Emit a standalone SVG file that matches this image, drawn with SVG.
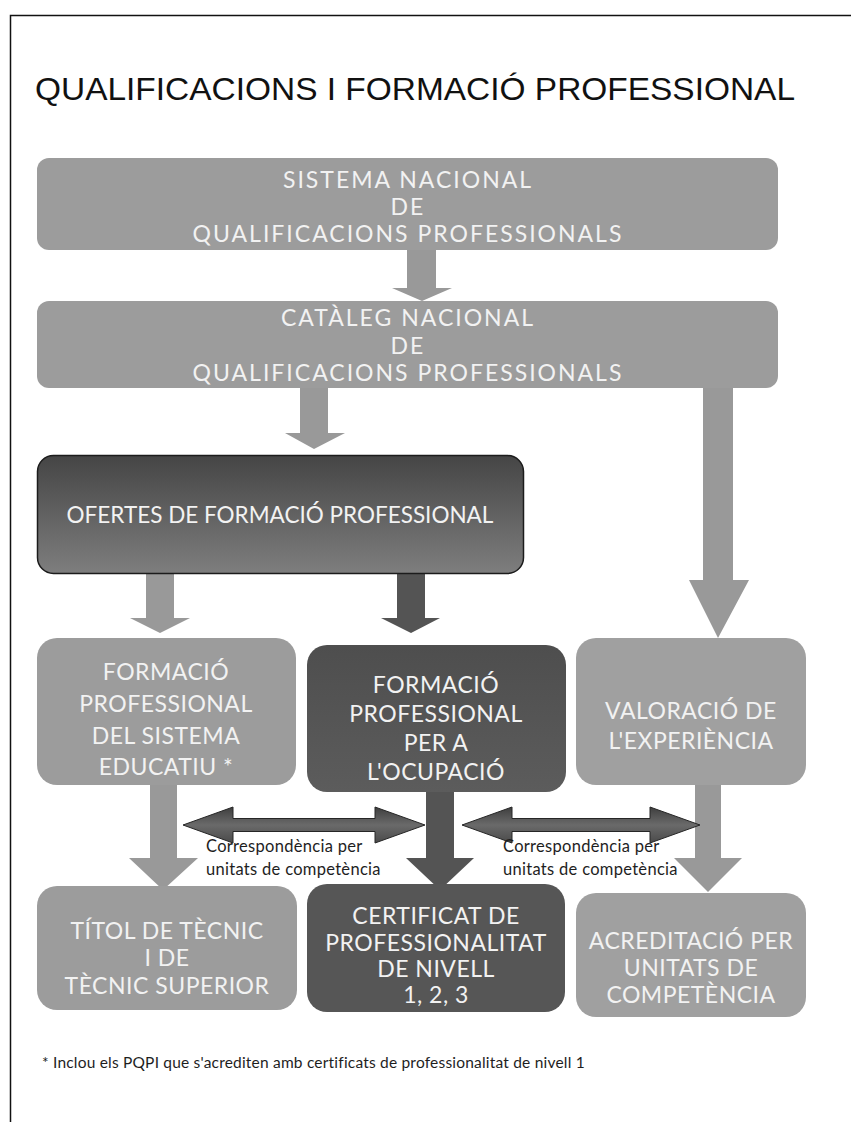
<svg xmlns="http://www.w3.org/2000/svg" width="851" height="1122" viewBox="0 0 851 1122">
<defs>
<linearGradient id="gDark" x1="0" y1="0" x2="0" y2="1">
<stop offset="0" stop-color="#454545"/>
<stop offset="1" stop-color="#7e7e7e"/>
</linearGradient>
<linearGradient id="gMid" x1="0" y1="0" x2="0" y2="1">
<stop offset="0" stop-color="#4e4e4e"/>
<stop offset="1" stop-color="#5c5c5c"/>
</linearGradient>
<linearGradient id="gDbl" x1="0" y1="0" x2="0" y2="1">
<stop offset="0" stop-color="#3e3e3e"/>
<stop offset="0.5" stop-color="#6a6a6a"/>
<stop offset="1" stop-color="#4a4a4a"/>
</linearGradient>
<style>
.light{fill:#9c9c9c}
.dark{fill:#565656}
.ar{fill:#999999}
.ard{fill:#545454}
.dbl{fill:url(#gDbl);stroke:#262626;stroke-width:1}
.bt{font-family:Lato,"Open Sans",sans-serif;fill:#f2f2f2;text-anchor:middle}
.t1{font-size:23px;letter-spacing:2px}
.t2{font-size:23px;letter-spacing:0.5px}
.lbl{font-family:Lato,"Open Sans",sans-serif;font-size:16.5px;letter-spacing:0.3px;fill:#1e1e1e}
</style>
</defs>
<rect width="851" height="1122" fill="#ffffff"/>
<path d="M10.5 1122 V15.5 H851" fill="none" stroke="#111" stroke-width="1.5"/>
<text x="35" y="100" font-family="Liberation Sans, Arial, sans-serif" font-size="32" fill="#111" textLength="760" lengthAdjust="spacingAndGlyphs">QUALIFICACIONS I FORMACIÓ PROFESSIONAL</text>

<g id="connectors">
<polygon class="ar" points="407,250 436,250 436,288 452,288 422,301 392,288 407,288"/>
<polygon class="ar" points="300,388 328,388 328,433 345,433 314,449 285,433 300,433"/>
<polygon class="ar" points="703,388 733,388 733,580 749,580 718,638 689,580 703,580"/>
<polygon class="ar" points="146,574 174,574 174,618 190,618 160,633 130,618 146,618"/>
<polygon class="ard" points="397,574 425,574 425,618 440,618 411,633 381,618 397,618"/>
<polygon class="ar" points="150,785 177,785 177,858 198,858 163,890 129,858 150,858"/>
<polygon class="ard" points="426,792 454,792 454,858 474,858 440,890 406,858 426,858"/>
<polygon class="ar" points="695,785 721,785 721,858 742,858 708,892 674,858 695,858"/>
<polygon class="dbl" points="183,825 233,807 233,818.5 375,818.5 375,807 425,825 375,843 375,831.5 233,831.5 233,843"/>
<polygon class="dbl" points="462,825 512,807 512,818.5 650,818.5 650,807 700,825 650,843 650,831.5 512,831.5 512,843"/>
<text class="lbl" x="206" y="852">Correspondència per</text>
<text class="lbl" x="206" y="875">unitats de competència</text>
<text class="lbl" x="503" y="852">Correspondència per</text>
<text class="lbl" x="503" y="875">unitats de competència</text>
</g>

<g id="n-sistema">
<rect class="light" x="37" y="158" width="741" height="92" rx="12"/>
<text class="bt t1" x="408" y="188">SISTEMA NACIONAL</text>
<text class="bt t1" x="408" y="215">DE</text>
<text class="bt t1" x="408" y="242">QUALIFICACIONS PROFESSIONALS</text>
</g>
<g id="n-cataleg">
<rect class="light" x="37" y="301" width="741" height="87" rx="12"/>
<text class="bt t1" x="408" y="326">CATÀLEG NACIONAL</text>
<text class="bt t1" x="408" y="354">DE</text>
<text class="bt t1" x="408" y="381">QUALIFICACIONS PROFESSIONALS</text>
</g>
<g id="n-ofertes">
<rect x="37.5" y="455.5" width="486" height="118" rx="16" fill="url(#gDark)" stroke="#1c1c1c" stroke-width="1.5"/>
<text class="bt" x="280" y="523" font-size="22.5">OFERTES DE FORMACIÓ PROFESSIONAL</text>
</g>
<g id="n-fp-educatiu">
<rect class="light" x="37" y="638" width="259" height="147" rx="20"/>
<text class="bt t2" x="166" y="680">FORMACIÓ</text>
<text class="bt t2" x="166" y="712">PROFESSIONAL</text>
<text class="bt t2" x="166" y="744">DEL SISTEMA</text>
<text class="bt t2" x="166" y="775">EDUCATIU *</text>
</g>
<g id="n-fp-ocupacio">
<rect x="307" y="645" width="259" height="147" rx="20" fill="url(#gMid)"/>
<text class="bt t2" x="436" y="693">FORMACIÓ</text>
<text class="bt t2" x="436" y="722">PROFESSIONAL</text>
<text class="bt t2" x="436" y="751">PER A</text>
<text class="bt t2" x="436" y="780">L'OCUPACIÓ</text>
</g>
<g id="n-valoracio">
<rect x="576" y="638" width="230" height="147" rx="20" fill="#a0a0a0"/>
<text class="bt t2" x="691" y="719">VALORACIÓ DE</text>
<text class="bt t2" x="691" y="749">L'EXPERIÈNCIA</text>
</g>
<g id="n-titol">
<rect class="light" x="37" y="886" width="260" height="124" rx="20"/>
<text class="bt t2" x="167" y="939" letter-spacing="0">TÍTOL DE TÈCNIC</text>
<text class="bt t2" x="167" y="966">I DE</text>
<text class="bt t2" x="167" y="994" letter-spacing="0">TÈCNIC SUPERIOR</text>
</g>
<g id="n-certificat">
<rect class="dark" x="307" y="884" width="258" height="128" rx="20"/>
<text class="bt t2" x="436" y="924">CERTIFICAT DE</text>
<text class="bt t2" x="436" y="951">PROFESSIONALITAT</text>
<text class="bt t2" x="436" y="977">DE NIVELL</text>
<text class="bt t2" x="436" y="1003">1, 2, 3</text>
</g>
<g id="n-acreditacio">
<rect x="576" y="893" width="230" height="124" rx="20" fill="#a0a0a0"/>
<text class="bt t2" x="691" y="949">ACREDITACIÓ PER</text>
<text class="bt t2" x="691" y="976">UNITATS DE</text>
<text class="bt t2" x="691" y="1003">COMPETÈNCIA</text>
</g>
<text x="42" y="1068" font-family="Lato, 'Open Sans', sans-serif" font-size="15.5" letter-spacing="0.2" fill="#1e1e1e">* Inclou els PQPI que s'acrediten amb certificats de professionalitat de nivell 1</text>
</svg>
